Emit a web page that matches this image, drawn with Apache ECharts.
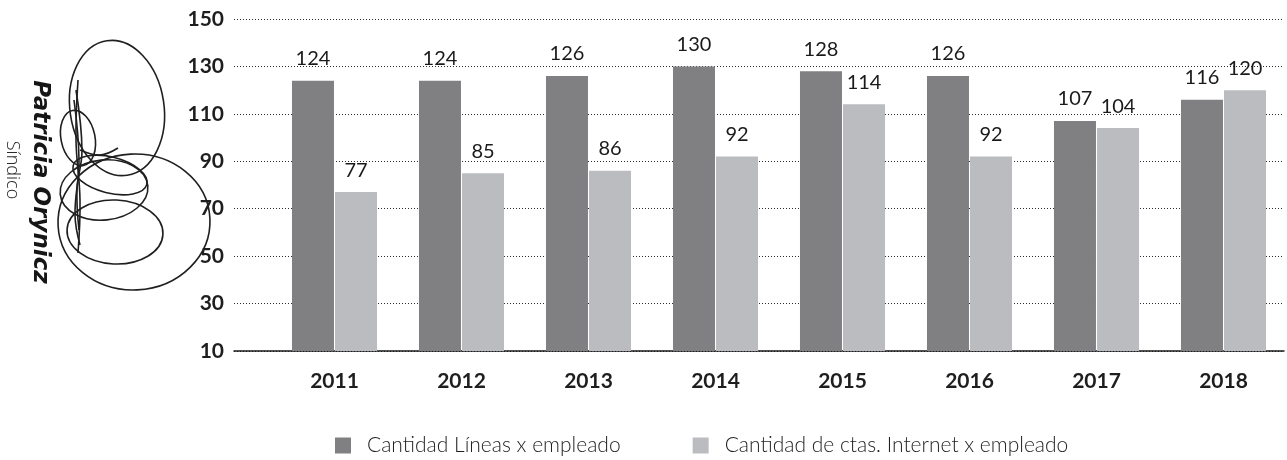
<!DOCTYPE html>
<html>
<head>
<meta charset="utf-8">
<script src="https://cdn.jsdelivr.net/npm/echarts@6/dist/echarts.min.js"></script>
<style>
  html, body { margin: 0; padding: 0; background: #fff; }
  #chart { width: 1287px; height: 460px; }
</style>
</head>
<body>
<div id="chart"></div>
<script>
// Employee productivity per year
const years = ['2011', '2012', '2013', '2014', '2015', '2016', '2017', '2018'];
const lineasPorEmpleado = [124, 124, 126, 130, 128, 126, 107, 116];
const internetPorEmpleado = [77, 85, 86, 92, 114, 92, 104, 120];
const seriesNames = ['Cantidad Líneas x empleado', 'Cantidad de ctas. Internet x empleado'];
const yMin = 10, yMax = 150, yStep = 20;

const DARK = '#808083';
const LIGHT = '#bbbcc0';
const TEXT = '#1e1e1e';
const BOLD_FONT = 'Lato';
const LIGHT_FONT = 'Lato';

const chart = echarts.init(document.getElementById('chart'), null, { renderer: 'canvas' });

const valueLabel = {
  show: true,
  position: 'top',
  distance: 12,
  color: '#1a1a1a',
  fontFamily: LIGHT_FONT,
  fontWeight: 'normal',
  fontSize: 20
};

// signature strokes next to the name
const ink = { stroke: '#1f1f1f', fill: 'none', lineWidth: 1.6 };
function loop(cx, cy, rx, ry, rot) {
  return { type: 'ellipse', shape: { cx, cy, rx, ry }, style: ink, silent: true,
           rotation: rot, originX: cx, originY: cy, z: 1 };
}
function stroke(points) {
  return { type: 'polyline', shape: { points, smooth: 0.4 }, style: ink, silent: true, z: 1 };
}

chart.setOption({
  animation: false,
  backgroundColor: '#ffffff',
  legend: {
    left: 335,
    top: 435,
    padding: 0,
    itemWidth: 16,
    itemHeight: 16,
    itemGap: 72,
    icon: 'rect',
    selectedMode: false,
    textStyle: {
      color: TEXT,
      fontFamily: LIGHT_FONT,
      fontWeight: 300,
      fontSize: 21,
      padding: [0, 0, 0, 11]
    },
    data: seriesNames
  },
  grid: [
    // background grid: value scale, dotted guides and base line
    { left: 234, right: 3, top: 19, bottom: 109 },
    // bar grid: category bands
    { left: 271, width: 1021, top: 19, bottom: 109 }
  ],
  xAxis: [
    {
      gridIndex: 0, type: 'value', min: 0, max: 1,
      axisLine: { show: true, lineStyle: { color: '#1a1a1a', width: 1.5 } },
      axisTick: { show: false }, axisLabel: { show: false }, splitLine: { show: false }
    },
    {
      gridIndex: 1, type: 'category', data: years,
      axisLine: { show: false }, axisTick: { show: false },
      axisLabel: {
        margin: 20, color: TEXT, fontFamily: BOLD_FONT, fontWeight: 'bold', fontSize: 21
      }
    }
  ],
  yAxis: [
    {
      gridIndex: 0, type: 'value', min: yMin, max: yMax, interval: yStep,
      axisLine: { show: false }, axisTick: { show: false },
      axisLabel: {
        margin: 10, color: TEXT, fontFamily: BOLD_FONT, fontWeight: 'bold', fontSize: 21
      },
      splitLine: { show: true, lineStyle: { color: '#2a2a2a', width: 1, type: [1, 2] } }
    },
    {
      gridIndex: 1, type: 'value', min: yMin, max: yMax, interval: yStep, show: false,
      splitLine: { show: false }
    }
  ],
  series: [
    {
      name: seriesNames[0], type: 'bar', xAxisIndex: 1, yAxisIndex: 1,
      data: lineasPorEmpleado, barWidth: 42, barGap: '2.5%',
      itemStyle: { color: DARK }, label: valueLabel, z: 3
    },
    {
      name: seriesNames[1], type: 'bar', xAxisIndex: 1, yAxisIndex: 1,
      data: internetPorEmpleado, barWidth: 42, barGap: '2.5%',
      itemStyle: { color: LIGHT }, label: valueLabel, z: 3
    }
  ],
  graphic: [
    loop(117, 108, 47, 68, 0.15),
    loop(134, 222, 76, 68, 0.05),
    loop(115, 232, 48, 32, -0.05),
    loop(104, 190, 44, 30, 0.1),
    loop(78, 138, 17, 28, 0.2),
    loop(110, 175, 38, 18, -0.25),
    stroke([[78, 80], [76, 140], [80, 200], [78, 253]]),
    stroke([[74, 100], [79, 160], [75, 215], [80, 245]]),
    stroke([[76, 90], [82, 150], [77, 190], [79, 230]]),
    stroke([[80, 150], [100, 155], [118, 148]]),
    {
      type: 'text', silent: true, z: 5,
      x: 40, y: 182, rotation: -Math.PI / 2,
      style: {
        text: 'Patricia Orynicz', fill: '#161616',
        font: 'italic bold 23px "DejaVu Sans", sans-serif',
        align: 'center', verticalAlign: 'middle'
      }
    },
    {
      type: 'text', silent: true, z: 5,
      x: 12, y: 170, rotation: -Math.PI / 2,
      style: {
        text: 'Síndico', fill: '#2a2a2a',
        font: '300 18px "Open Sans", sans-serif',
        align: 'center', verticalAlign: 'middle'
      }
    }
  ]
});
</script>
</body>
</html>
